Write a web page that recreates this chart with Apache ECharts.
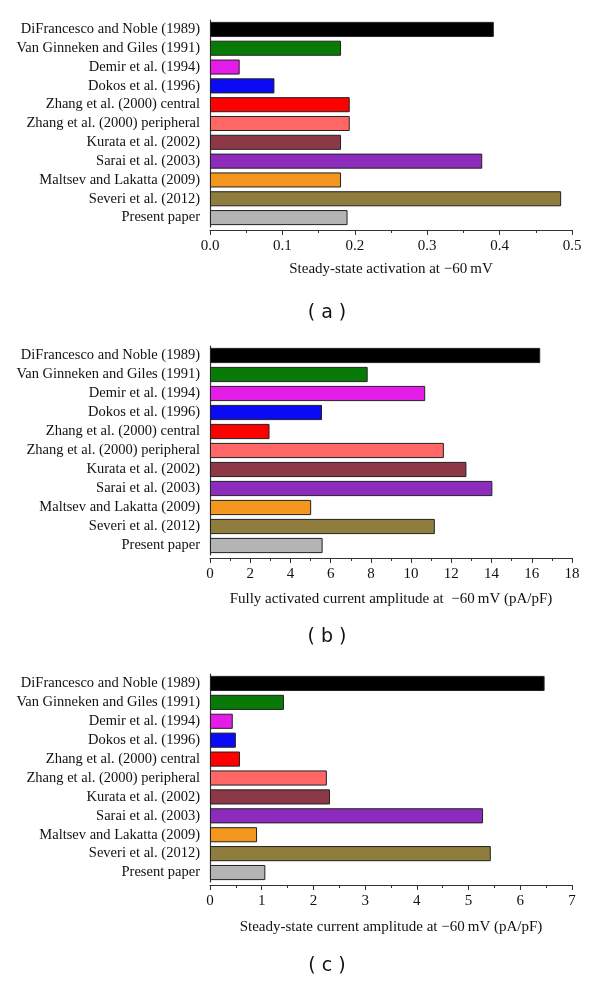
<!DOCTYPE html>
<html>
<head>
<meta charset="utf-8">
<script src="https://cdn.jsdelivr.net/npm/echarts@6/dist/echarts.min.js"></script>
<style>
  html, body { margin: 0; padding: 0; background: #fff; }
  #chart { width: 600px; height: 981px; }
</style>
</head>
<body>
<div id="chart"></div>
<script>
var models = ['DiFrancesco and Noble (1989)', 'Van Ginneken and Giles (1991)', 'Demir et al. (1994)',
    'Dokos et al. (1996)', 'Zhang et al. (2000) central', 'Zhang et al. (2000) peripheral',
    'Kurata et al. (2002)', 'Sarai et al. (2003)', 'Maltsev and Lakatta (2009)',
    'Severi et al. (2012)', 'Present paper'];
var barColors = ['#000000', '#087a08', '#e41ce8', '#0a0af5', '#ff0000', '#ff6666',
    '#8c3847', '#8d2bbd', '#f5961f', '#8e7d3d', '#b4b4b4'];

// (a) steady-state activation at -60 mV
var activation = [0.392, 0.181, 0.041, 0.089, 0.193, 0.193, 0.181, 0.376, 0.181, 0.485, 0.190];
// (b) fully activated current amplitude (pA/pF)
var fullCurrent = [16.42, 7.84, 10.70, 5.57, 2.96, 11.63, 12.75, 14.04, 5.03, 11.18, 5.60];
// (c) steady-state current amplitude (pA/pF)
var steadyCurrent = [6.47, 1.43, 0.44, 0.50, 0.58, 2.26, 2.32, 5.28, 0.91, 5.43, 1.07];

var axisTitles = ['Steady-state activation at \u221260\u2009mV',
    'Fully activated current amplitude at  \u221260\u2009mV (pA/pF)',
    'Steady-state current amplitude at \u221260\u2009mV (pA/pF)'];
var panelTags = ['( a )', '( b )', '( c )'];

var serif = '"Liberation Serif", "DejaVu Serif", serif';
var chart = echarts.init(document.getElementById('chart'));

// per panel: grid top / height, axis range
var panels = [
    {top: 20, height: 207, max: 0.5, interval: 0.1, data: activation, digits: 1, gap: 32, tagTop: 299},
    {top: 346, height: 209, max: 18, interval: 2, data: fullCurrent, digits: 0, gap: 34, tagTop: 623},
    {top: 674, height: 208, max: 7, interval: 1, data: steadyCurrent, digits: 0, gap: 35, tagTop: 952}
];

var grids = [], xAxes = [], yAxes = [], series = [], titles = [];
panels.forEach(function (p, i) {
    grids.push({left: 210, right: 28, top: p.top, height: p.height});
    xAxes.push({
        type: 'value', gridIndex: i, min: 0, max: p.max, interval: p.interval,
        offset: 3,
        name: axisTitles[i], nameLocation: 'middle', nameGap: p.gap,
        nameTextStyle: {fontFamily: serif, fontSize: 15, color: '#111'},
        axisLine: {show: true, lineStyle: {color: '#333', width: 1.2}},
        axisTick: {show: true, inside: false, length: 5, lineStyle: {color: '#333'}},
        minorTick: {show: true, splitNumber: 2, length: 3, lineStyle: {color: '#333'}},
        splitLine: {show: false},
        axisLabel: {
            fontFamily: serif, fontSize: 15, color: '#111', margin: 9,
            formatter: function (v) { return v.toFixed(p.digits); }
        }
    });
    yAxes.push({
        type: 'category', gridIndex: i, data: models, inverse: true,
        axisLine: {show: true, lineStyle: {color: '#333', width: 1.2}},
        axisTick: {show: false},
        axisLabel: {fontFamily: serif, fontSize: 14.5, color: '#111', margin: 10, interval: 0}
    });
    series.push({
        type: 'bar', xAxisIndex: i, yAxisIndex: i,
        barCategoryGap: '20%',
        data: p.data.map(function (v, k) {
            return {value: v, itemStyle: {color: barColors[k]}};
        }),
        itemStyle: {borderColor: '#222', borderWidth: 1}
    });
    titles.push({
        text: panelTags[i], left: 322, top: p.tagTop, textAlign: 'center',
        textStyle: {fontFamily: '"DejaVu Sans", sans-serif', fontSize: 19, fontWeight: 'normal', color: '#111'}
    });
});

chart.setOption({
    animation: false,
    title: titles,
    grid: grids,
    xAxis: xAxes,
    yAxis: yAxes,
    series: series
});
</script>
</body>
</html>
